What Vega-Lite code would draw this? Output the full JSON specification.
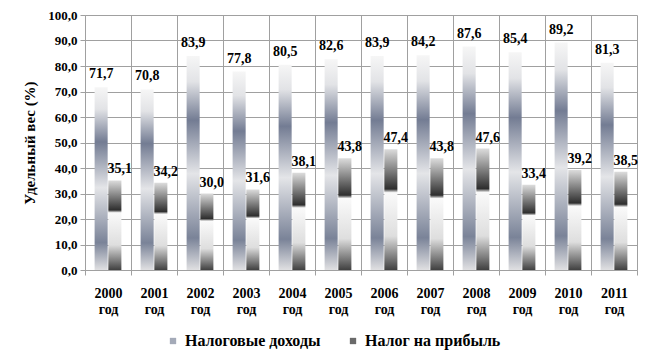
{
  "$schema": "https://vega.github.io/schema/vega-lite/v6.json",
  "width": 552,
  "height": 255,
  "autosize": {"type": "none"},
  "padding": {"left": 85, "top": 15, "right": 15, "bottom": 92},
  "background": "white",
  "config": {
    "locale": {"number": {"decimal": ",", "thousands": " ", "grouping": [3], "currency": ["", ""]}},
    "font": "Liberation Serif",
    "view": {"stroke": null}
  },
  "data": {
    "values": [
      {"year": "2000 год", "series": "Налоговые доходы", "value": 71.7},
      {"year": "2001 год", "series": "Налоговые доходы", "value": 70.8},
      {"year": "2002 год", "series": "Налоговые доходы", "value": 83.9},
      {"year": "2003 год", "series": "Налоговые доходы", "value": 77.8},
      {"year": "2004 год", "series": "Налоговые доходы", "value": 80.5},
      {"year": "2005 год", "series": "Налоговые доходы", "value": 82.6},
      {"year": "2006 год", "series": "Налоговые доходы", "value": 83.9},
      {"year": "2007 год", "series": "Налоговые доходы", "value": 84.2},
      {"year": "2008 год", "series": "Налоговые доходы", "value": 87.6},
      {"year": "2009 год", "series": "Налоговые доходы", "value": 85.4},
      {"year": "2010 год", "series": "Налоговые доходы", "value": 89.2},
      {"year": "2011 год", "series": "Налоговые доходы", "value": 81.3},
      {"year": "2000 год", "series": "Налог на прибыль", "value": 35.1},
      {"year": "2001 год", "series": "Налог на прибыль", "value": 34.2},
      {"year": "2002 год", "series": "Налог на прибыль", "value": 30.0},
      {"year": "2003 год", "series": "Налог на прибыль", "value": 31.6},
      {"year": "2004 год", "series": "Налог на прибыль", "value": 38.1},
      {"year": "2005 год", "series": "Налог на прибыль", "value": 43.8},
      {"year": "2006 год", "series": "Налог на прибыль", "value": 47.4},
      {"year": "2007 год", "series": "Налог на прибыль", "value": 43.8},
      {"year": "2008 год", "series": "Налог на прибыль", "value": 47.6},
      {"year": "2009 год", "series": "Налог на прибыль", "value": 33.4},
      {"year": "2010 год", "series": "Налог на прибыль", "value": 39.2},
      {"year": "2011 год", "series": "Налог на прибыль", "value": 38.5}
    ]
  },
  "encoding": {
    "x": {
      "field": "year", "type": "nominal", "sort": null,
      "scale": {"paddingInner": 0, "paddingOuter": 0},
      "axis": {
        "title": null, "labelAngle": 0, "labelExpr": "split(datum.label, ' ')",
        "labelFont": "Liberation Serif", "labelFontWeight": "bold", "labelFontSize": 14, "labelColor": "black",
        "labelLineHeight": 16, "labelPadding": 11,
        "tickBand": "extent", "grid": true, "gridColor": "#a0a0a0", "tickColor": "#a0a0a0",
        "domainColor": "#a0a0a0", "tickSize": 5
      }
    },
    "xOffset": {
      "field": "series", "type": "nominal",
      "sort": ["Налоговые доходы", "Налог на прибыль"],
      "scale": {"domain": ["Налоговые доходы", "Налог на прибыль"], "paddingInner": 0.05, "paddingOuter": 0.7}
    },
    "y": {
      "field": "value", "type": "quantitative",
      "scale": {"domain": [0, 100], "nice": false},
      "axis": {
        "title": "Удельный вес (%)", "format": ".1f", "values": [0,10,20,30,40,50,60,70,80,90,100],
        "labelFont": "Liberation Serif", "labelFontWeight": "bold", "labelFontSize": 13, "labelColor": "black",
        "labelPadding": 3, "tickSize": 5, "tickColor": "#a0a0a0", "domainColor": "#a0a0a0",
        "gridColor": "#a0a0a0",
        "titleFont": "Liberation Serif", "titleFontWeight": "bold", "titleFontSize": 15, "titleColor": "black",
        "titlePadding": 10
      }
    }
  },
  "layer": [
    {
      "transform": [{"filter": "datum.series === 'Налоговые доходы'"}],
      "mark": {"type": "bar", "color": {"gradient": "linear", "x1": 0, "y1": 0, "x2": 0, "y2": 1, "stops": [
        {"offset": 0, "color": "#f6f6f6"},
        {"offset": 0.12, "color": "#e2e3e6"},
        {"offset": 0.3, "color": "#737c93"},
        {"offset": 0.55, "color": "#e4e5e8"},
        {"offset": 0.85, "color": "#7a8398"},
        {"offset": 1, "color": "#e0e0e2"}
      ]}}
    },
    {
      "transform": [{"filter": "datum.series === 'Налог на прибыль'"}],
      "mark": {"type": "bar", "color": {"gradient": "linear", "x1": 0, "y1": 0, "x2": 0, "y2": 1, "stops": [
        {"offset": 0, "color": "#dcdcdc"},
        {"offset": 0.33, "color": "#2e2e2e"},
        {"offset": 0.36, "color": "#fafafa"},
        {"offset": 0.72, "color": "#dedede"},
        {"offset": 0.9, "color": "#7a7a7a"},
        {"offset": 1, "color": "#404040"}
      ]}}
    },
    {
      "mark": {"type": "bar"},
      "encoding": {
        "y": {"datum": 0, "type": "quantitative"},
        "color": {
          "field": "series", "type": "nominal",
          "scale": {"domain": ["Налоговые доходы", "Налог на прибыль"], "range": ["#a4aab8", "#6a6a6a"]},
          "legend": {
            "orient": "none", "legendX": 80, "legendY": 318, "direction": "horizontal", "title": null,
            "symbolType": "square", "symbolSize": 40, "symbolStrokeWidth": 0,
            "labelFont": "Liberation Serif", "labelFontWeight": "bold", "labelFontSize": 16, "labelColor": "black",
            "columnPadding": 24, "labelOffset": 4
          }
        }
      }
    },
    {
      "transform": [{"filter": "datum.series === 'Налоговые доходы'"}],
      "mark": {"type": "text", "baseline": "alphabetic", "dy": -9, "dx": 0, "font": "Liberation Serif", "fontWeight": "bold", "fontSize": 14, "color": "black"},
      "encoding": {
        "text": {"field": "value", "type": "quantitative", "format": ".1f"}
      }
    },
    {
      "transform": [{"filter": "datum.series === 'Налог на прибыль'"}],
      "mark": {"type": "text", "baseline": "alphabetic", "dy": -7, "dx": 5, "font": "Liberation Serif", "fontWeight": "bold", "fontSize": 14, "color": "black"},
      "encoding": {
        "text": {"field": "value", "type": "quantitative", "format": ".1f"}
      }
    }
  ]
}
